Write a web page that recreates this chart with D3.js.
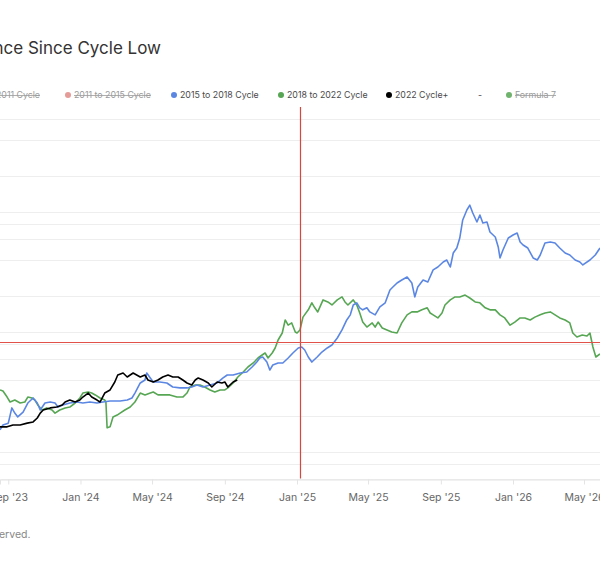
<!DOCTYPE html>
<html><head><meta charset="utf-8">
<script src="https://cdn.jsdelivr.net/npm/d3@7"></script>
<style>html,body{margin:0;padding:0;background:#fff;} svg{display:block;font-family:Inter,"Noto Sans",sans-serif;}</style>
</head><body><svg id="c" width="600" height="574"></svg>
<script>
// ---- data ----
const cycleLowUTC = Date.UTC(2022, 10, 21);   // day 0 of the current cycle
const dayDomain = [270, 1284];                 // visible days since cycle low
const gridValues = [0.6, 0.8, 1, 2, 4, 6, 8, 10, 20, 40, 60, 80, 100, 200, 400, 600];
const markerDay = 777;       // red vertical marker
const markerRoi = 8.25;      // red horizontal marker
const legendNames = ["2011 Cycle", "2011 to 2015 Cycle", "2015 to 2018 Cycle", "2018 to 2022 Cycle", "2022 Cycle+", "-", "Formula 7"];
const legendHidden = [true, true, false, false, false, false, true];
const titleText = "ance Since Cycle Low";
const footerText = "erved.";

// [days since cycle low, ROI multiple]
const cycle2015 = [[270,1.53],[275,1.68],[284,1.74],[290,2.33],[295,2.11],[300,1.96],[309,2.15],[317,2.56],[326,2.82],[333,2.56],[338,2.24],[346,2.56],[355,2.61],[363,2.56],[368,2.37],[376,2.46],[388,2.56],[400,2.61],[410,2.56],[422,2.61],[434,2.56],[444,2.61],[456,2.66],[468,2.66],[473,2.66],[485,2.71],[493,2.82],[498,3.10],[507,3.76],[515,3.98],[518,4.55],[524,4.14],[529,3.83],[540,3.83],[552,3.76],[562,3.48],[574,3.42],[586,3.42],[594,3.48],[603,3.62],[613,3.48],[625,3.62],[637,3.76],[647,4.14],[654,4.38],[664,4.38],[676,4.55],[687,4.64],[696,5.11],[704,5.62],[709,6.07],[714,6.19],[721,5.62],[726,4.82],[731,5.31],[740,5.52],[748,5.52],[757,6.07],[765,6.68],[774,7.36],[780,7.50],[785,7.08],[791,6.19],[797,5.62],[806,6.19],[814,6.81],[823,7.36],[831,7.79],[840,8.91],[848,10.4],[856,12.6],[862,13.9],[867,16.8],[873,17.5],[878,15.9],[883,15.3],[890,15.9],[895,14.7],[904,13.9],[912,16.2],[921,17.5],[929,22.4],[934,23.7],[941,25.6],[949,27.1],[958,28.7],[966,25.6],[971,19.6],[976,23.7],[985,27.1],[993,26.1],[1002,32.9],[1010,34.8],[1019,38.3],[1025,39.8],[1031,34.8],[1036,45.5],[1042,50.1],[1047,60.7],[1052,85.8],[1059,104],[1064,114],[1069,98.1],[1076,82.5],[1081,94.4],[1086,81.0],[1093,82.5],[1098,68.1],[1107,61.9],[1112,51.1],[1115,41.4],[1120,48.2],[1129,60.7],[1137,64.3],[1144,66.8],[1149,56.2],[1154,53.1],[1162,50.1],[1171,41.4],[1178,39.8],[1183,43.8],[1191,55.2],[1200,56.2],[1208,55.2],[1216,50.1],[1225,45.5],[1233,43.8],[1242,39.8],[1250,38.3],[1255,36.2],[1267,39.8],[1276,43.8],[1284,50.1]];

const cycle2018 = [[270,3.29],[275,3.22],[282,2.87],[287,2.61],[295,2.71],[304,2.56],[312,2.61],[317,2.87],[324,2.82],[329,2.71],[334,2.46],[341,2.24],[349,2.33],[358,2.24],[363,2.11],[371,2.24],[380,2.33],[388,2.37],[397,2.56],[405,2.82],[410,3.10],[419,3.16],[425,3.10],[431,2.99],[439,2.82],[447,2.71],[449,2.61],[451,1.59],[456,1.62],[461,1.96],[468,2.03],[473,2.11],[481,2.24],[490,2.37],[498,2.61],[507,3.10],[515,2.99],[524,3.10],[529,3.16],[537,2.99],[545,2.99],[557,2.99],[569,2.87],[579,2.87],[586,3.10],[591,3.48],[600,3.62],[608,3.62],[616,3.48],[625,3.29],[633,3.16],[642,3.29],[650,3.29],[655,3.42],[664,3.76],[672,4.22],[681,4.64],[689,5.11],[698,5.52],[706,6.07],[713,6.43],[718,6.68],[723,6.07],[730,6.68],[735,7.36],[740,8.58],[747,9.81],[752,12.6],[757,11.4],[763,11.9],[769,10.0],[772,9.81],[777,10.4],[782,13.3],[791,15.3],[797,17.5],[802,15.9],[807,14.7],[816,18.5],[824,17.8],[831,16.8],[840,18.5],[848,19.6],[853,17.8],[858,16.8],[867,18.5],[873,16.8],[878,14.4],[883,12.1],[890,11.0],[899,11.9],[904,11.0],[909,12.1],[916,10.8],[924,10.4],[932,10.0],[941,9.81],[949,11.9],[958,13.9],[966,14.7],[975,14.7],[983,15.3],[992,15.9],[997,14.4],[1002,13.9],[1010,13.1],[1017,14.4],[1022,16.8],[1031,18.5],[1039,19.6],[1047,19.6],[1056,20.3],[1064,19.2],[1073,17.8],[1081,17.5],[1090,15.9],[1098,15.3],[1107,15.3],[1115,13.9],[1123,13.1],[1132,11.4],[1140,12.1],[1149,13.1],[1157,13.1],[1166,12.6],[1174,13.3],[1183,13.9],[1191,14.4],[1200,14.7],[1208,13.9],[1216,13.1],[1225,12.6],[1233,11.9],[1238,9.81],[1245,9.09],[1254,9.44],[1262,9.26],[1267,9.81],[1272,7.50],[1277,6.19],[1284,6.56]];

const cycle2022 = [[270,1.62],[282,1.62],[292,1.68],[304,1.68],[316,1.74],[326,1.78],[333,1.92],[338,2.11],[343,2.24],[355,2.33],[366,2.37],[375,2.46],[380,2.61],[388,2.71],[397,2.61],[405,2.71],[410,2.87],[419,3.10],[425,2.87],[434,2.71],[439,2.61],[447,3.10],[456,3.29],[464,3.83],[469,4.38],[478,4.55],[485,4.22],[495,4.55],[507,4.22],[515,4.38],[520,3.98],[529,3.83],[537,3.98],[545,4.22],[554,4.38],[562,4.22],[571,4.22],[579,3.98],[586,3.76],[594,3.62],[600,3.98],[605,4.14],[613,3.98],[622,3.76],[628,3.48],[637,3.83],[645,3.76],[650,3.83],[655,3.48],[664,3.83],[671,3.98]];

// ---- chart ----
const W = 600, H = 574;
const svg = d3.select("#c");
const toDate = d => new Date(cycleLowUTC + d * 86400000);

const x = d3.scaleUtc().domain(dayDomain.map(toDate)).range([0, W]);
const y = d3.scaleLog().domain([1, 1000]).range([452, 92]);
const plotTop = 107, plotBottom = y(0.6);

// grid
svg.append("g").selectAll("line").data(gridValues).join("line")
  .attr("x1", 0).attr("x2", W)
  .attr("y1", d => Math.round(y(d)) + 0.5).attr("y2", d => Math.round(y(d)) + 0.5)
  .attr("stroke", "#eeeeee").attr("stroke-width", 1);

// x axis
const xAxis = d3.axisBottom(x).ticks(d3.utcMonth.every(4)).tickFormat(d3.utcFormat("%b '%y")).tickSize(5).tickPadding(9);
const gx = svg.append("g").attr("transform", `translate(0,${Math.round(plotBottom) + 0.5})`).call(xAxis);
gx.select(".domain").attr("stroke", "#e4e4e4");
gx.selectAll(".tick line").attr("stroke", "#e4e4e4");
gx.selectAll(".tick text").attr("fill", "#666").attr("font-size", 10.5).attr("font-family", "Inter,'Noto Sans',sans-serif");

// series
const line = d3.line().x(d => x(toDate(d[0]))).y(d => y(d[1]));
const seriesDefs = [
  { data: cycle2018, color: "#56a653" },
  { data: cycle2015, color: "#5b87e3" },
  { data: cycle2022, color: "#000000" }
];
svg.append("g").selectAll("path").data(seriesDefs).join("path")
  .attr("d", d => line(d.data)).attr("fill", "none")
  .attr("stroke", d => d.color).attr("stroke-width", 1.6).attr("stroke-linejoin", "round");

// markers
svg.append("line").attr("x1", Math.round(x(toDate(markerDay))) + 0.5).attr("x2", Math.round(x(toDate(markerDay))) + 0.5)
  .attr("y1", plotTop).attr("y2", plotBottom).attr("stroke", "#d8463f").attr("stroke-width", 1.2);
svg.append("line").attr("x1", 0).attr("x2", W)
  .attr("y1", Math.round(y(markerRoi)) + 0.5).attr("y2", Math.round(y(markerRoi)) + 0.5)
  .attr("stroke", "#e0524a").attr("stroke-width", 1.2);

// title
svg.append("text").attr("x", 161).attr("y", 54).attr("text-anchor", "end")
  .attr("font-size", 17).attr("fill", "#333").text(titleText);

// legend
const legendColors = ["#aaaaaa", "#e08a85", "#5b87e3", "#56a653", "#000000", null, "#56a653"];
const legendDotX = [-8, 68, 174, 281, 389, null, 509];
const legendY = 95;
const lg = svg.append("g").attr("font-size", 8.8);
legendNames.forEach((name, i) => {
  const hidden = legendHidden[i];
  let tx;
  if (i === 0) tx = null; else if (legendDotX[i] === null) tx = 478; else tx = legendDotX[i] + 6;
  if (legendDotX[i] !== null && i !== 0) {
    lg.append("circle").attr("cx", legendDotX[i]).attr("cy", legendY).attr("r", 3)
      .attr("fill", legendColors[i]).attr("opacity", hidden ? 0.85 : 1);
  }
  const t = lg.append("text").attr("y", legendY + 3.2).attr("fill", hidden ? "#9a9a9a" : "#4a4a4a").text(name);
  if (i === 0) t.attr("x", 40).attr("text-anchor", "end"); else t.attr("x", tx);
  if (hidden) {
    const bb = t.node().getBBox();
    lg.append("line").attr("x1", bb.x).attr("x2", bb.x + bb.width)
      .attr("y1", legendY + 0.5).attr("y2", legendY + 0.5).attr("stroke", "#9a9a9a").attr("stroke-width", 0.8);
  }
});

// footer
svg.append("text").attr("x", -1).attr("y", 538).attr("font-size", 10.5).attr("fill", "#888").text(footerText);
</script>
</body></html>
